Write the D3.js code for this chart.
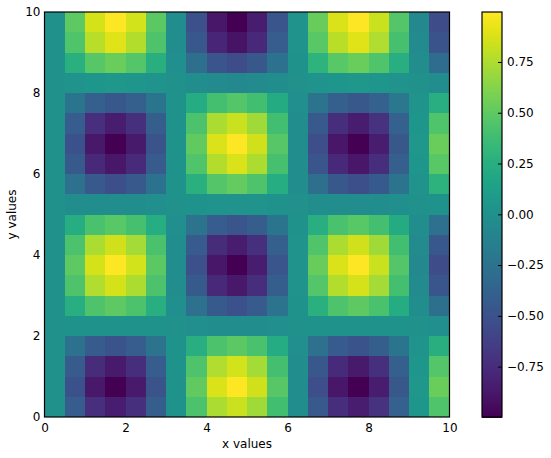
<!DOCTYPE html>
<html>
<head>
<meta charset="utf-8">
<script src="https://d3js.org/d3.v7.min.js"></script>
<style>
  html, body { margin: 0; padding: 0; background: #fff; }
  svg { display: block; }
  text { font-family: "DejaVu Sans", sans-serif; fill: #000; }
</style>
</head>
<body>
<svg id="chart" width="551" height="458"></svg>
<script>
// Grid values, listed from the bottom row (y = 0) to the top row (y = 10).
const zRows = [
  [0,-.42,-.73,-.84,-.72,-.41,.02,.43,.74,.84,.71,.39,-.03,-.45,-.74,-.84,-.71,-.39,.05,.45],
  [0,-.50,-.87,-1,-.86,-.49,.02,.51,.88,1,.85,.47,-.03,-.53,-.88,-1,-.84,-.46,.06,.54],
  [0,-.43,-.75,-.86,-.74,-.42,.02,.44,.76,.86,.73,.40,-.03,-.46,-.76,-.86,-.72,-.40,.05,.46],
  [0,-.25,-.43,-.49,-.42,-.24,.01,.25,.43,.49,.42,.23,-.01,-.26,-.43,-.49,-.41,-.23,.03,.26],
  [0,.01,.02,.02,.02,.01,0,-.01,-.02,-.02,-.02,-.01,0,.01,.02,.02,.02,.01,0,-.01],
  [0,.25,.44,.50,.43,.25,-.01,-.26,-.44,-.50,-.43,-.24,.02,.27,.44,.50,.42,.23,-.03,-.27],
  [0,.44,.76,.87,.75,.43,-.02,-.44,-.77,-.87,-.74,-.41,.03,.46,.77,.87,.73,.40,-.05,-.47],
  [0,.50,.87,1,.86,.49,-.02,-.51,-.88,-1,-.85,-.47,.03,.53,.88,1,.84,.46,-.06,-.54],
  [0,.43,.74,.85,.73,.42,-.02,-.43,-.75,-.85,-.72,-.40,.03,.45,.75,.85,.71,.39,-.05,-.46],
  [0,.24,.42,.48,.41,.24,-.01,-.24,-.42,-.48,-.41,-.23,.01,.25,.42,.48,.40,.22,-.03,-.26],
  [0,-.02,-.03,-.03,-.03,-.01,0,.02,.03,.03,.03,.01,0,-.02,-.03,-.03,-.03,-.01,0,.02],
  [0,-.26,-.45,-.52,-.45,-.25,.01,.27,.46,.52,.44,.24,-.02,-.28,-.46,-.52,-.44,-.24,.03,.28],
  [0,-.44,-.77,-.88,-.76,-.43,.02,.45,.77,.88,.75,.41,-.03,-.47,-.77,-.88,-.74,-.40,.05,.48],
  [0,-.50,-.87,-1,-.86,-.49,.02,.51,.88,1,.85,.47,-.03,-.53,-.88,-1,-.84,-.46,.06,.54],
  [0,-.42,-.73,-.84,-.72,-.41,.02,.43,.74,.84,.71,.39,-.03,-.45,-.74,-.84,-.71,-.39,.05,.45],
  [0,-.23,-.40,-.46,-.40,-.23,.01,.23,.40,.46,.39,.22,-.01,-.24,-.40,-.46,-.39,-.21,.03,.25],
  [0,.03,.05,.06,.05,.03,0,-.03,-.05,-.06,-.05,-.03,0,.03,.05,.06,.05,.03,0,-.03],
  [0,.27,.47,.54,.46,.26,-.01,-.28,-.48,-.54,-.46,-.25,.02,.29,.48,.54,.45,.25,-.03,-.29],
  [0,.45,.78,.90,.77,.44,-.02,-.46,-.79,-.90,-.77,-.42,.03,.48,.79,.90,.76,.41,-.05,-.49],
  [0,.50,.87,1,.86,.49,-.02,-.51,-.88,-1,-.85,-.47,.03,.53,.88,1,.84,.46,-.06,-.54]
];
const axisTicks = [0, 2, 4, 6, 8, 10];
const colorTicks = [-0.75, -0.5, -0.25, 0, 0.25, 0.5, 0.75];
const colorDomain = [-0.998, 0.996];
const xLabel = "x values";
const yLabel = "y values";
const fontSize = 12;

const svg = d3.select("#chart");
const plot = { left: 44.5, right: 449.5, top: 12, bottom: 417 };
const bar = { left: 482, right: 502 };
const cellSize = 10 / zRows.length;

const x = d3.scaleLinear().domain([0, 10]).range([plot.left, plot.right]);
const y = d3.scaleLinear().domain([0, 10]).range([plot.bottom, plot.top]);
const color = d3.scaleSequential(d3.interpolateViridis).domain(colorDomain);

// Heatmap cells
const cells = zRows.flatMap((row, j) => row.map((v, i) => ({ i, j, v })));
svg.append("g")
  .attr("shape-rendering", "crispEdges")
  .selectAll("rect")
  .data(cells)
  .join("rect")
  .attr("x", d => x(d.i * cellSize))
  .attr("y", d => y((d.j + 1) * cellSize))
  .attr("width", d => x((d.i + 1) * cellSize) - x(d.i * cellSize))
  .attr("height", d => y(d.j * cellSize) - y((d.j + 1) * cellSize))
  .attr("fill", d => color(d.v));

// Main axes: labels only, with no tick marks
const xAxis = d3.axisBottom(x).tickValues(axisTicks).tickSize(0).tickPadding(6).tickFormat(d3.format("d"));
const yAxis = d3.axisLeft(y).tickValues(axisTicks).tickSize(0).tickPadding(4).tickFormat(d3.format("d"));
const gx = svg.append("g").attr("transform", `translate(0,${plot.bottom})`).call(xAxis);
const gy = svg.append("g").attr("transform", `translate(${plot.left},0)`).call(yAxis);
[gx, gy].forEach(g => {
  g.select(".domain").remove();
  g.selectAll("text").style("font-size", fontSize + "px").style("font-family", '"DejaVu Sans", sans-serif');
});

svg.append("rect")
  .attr("x", plot.left).attr("y", plot.top)
  .attr("width", plot.right - plot.left).attr("height", plot.bottom - plot.top)
  .attr("fill", "none").attr("stroke", "#000").attr("stroke-width", 1.2);

svg.append("text")
  .attr("x", (plot.left + plot.right) / 2).attr("y", 448)
  .attr("text-anchor", "middle").style("font-size", fontSize + "px")
  .text(xLabel);
svg.append("text")
  .attr("transform", `translate(16,${(plot.top + plot.bottom) / 2}) rotate(-90)`)
  .attr("text-anchor", "middle").style("font-size", fontSize + "px")
  .text(yLabel);

// Colorbar
const barY = d3.scaleLinear().domain(colorDomain).range([plot.bottom, plot.top]);
const steps = d3.range(256).map(k => colorDomain[0] + (colorDomain[1] - colorDomain[0]) * k / 256);
const stepH = (colorDomain[1] - colorDomain[0]) / 256;
svg.append("g")
  .attr("shape-rendering", "crispEdges")
  .selectAll("rect")
  .data(steps)
  .join("rect")
  .attr("x", bar.left)
  .attr("width", bar.right - bar.left)
  .attr("y", d => barY(d + stepH))
  .attr("height", d => barY(d) - barY(d + stepH) + 0.5)
  .attr("fill", d => color(d + stepH / 2));

const barAxis = d3.axisRight(barY).tickValues(colorTicks).tickSize(-4).tickPadding(5).tickFormat(d3.format(".2f"));
const gBar = svg.append("g").attr("transform", `translate(${bar.right},0)`).call(barAxis);
gBar.select(".domain").remove();
gBar.selectAll("text").style("font-size", fontSize + "px").style("font-family", '"DejaVu Sans", sans-serif');
gBar.selectAll("line").attr("stroke", "#000");

svg.append("rect")
  .attr("x", bar.left).attr("y", plot.top)
  .attr("width", bar.right - bar.left).attr("height", plot.bottom - plot.top)
  .attr("fill", "none").attr("stroke", "#000").attr("stroke-width", 1.2);
</script>
</body>
</html>
